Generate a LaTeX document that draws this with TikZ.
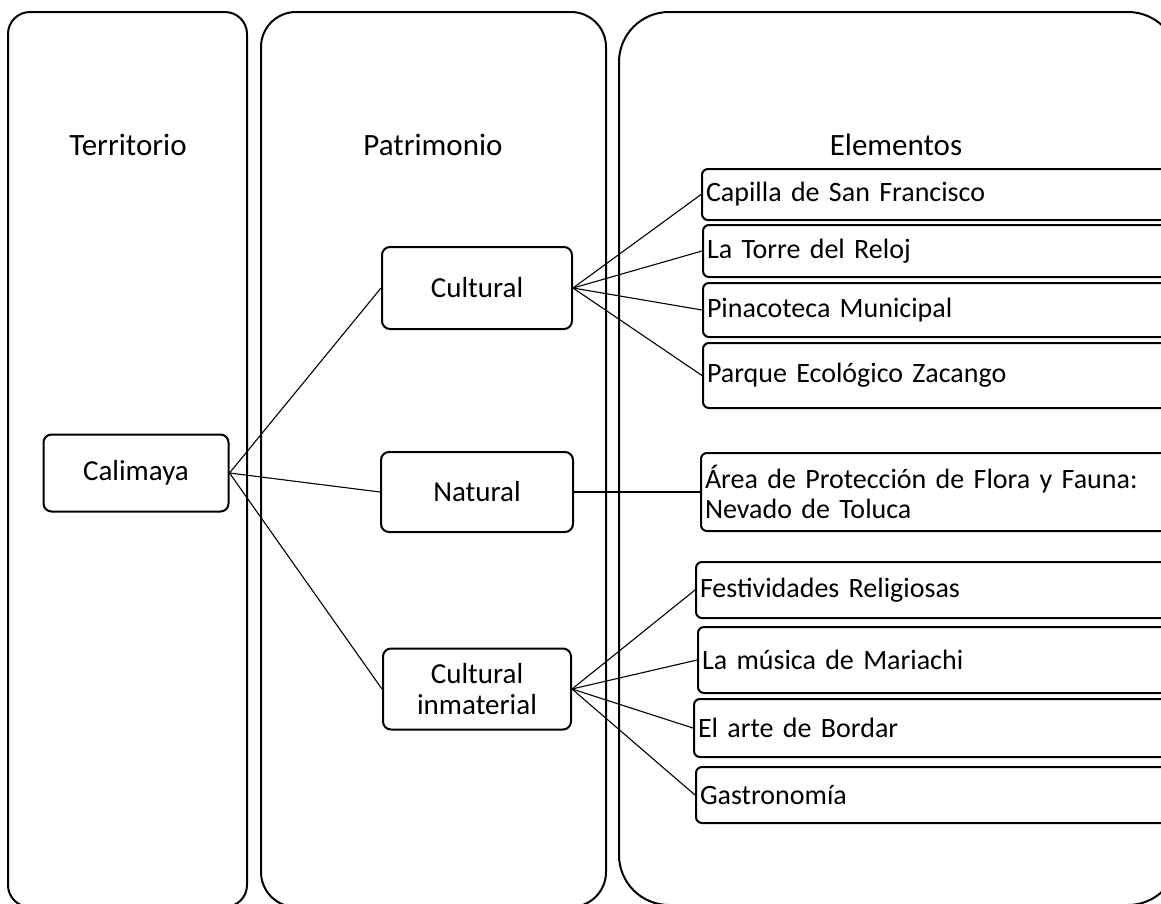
\documentclass[tikz,border=0pt]{standalone}
\usepackage{fontspec}
\setmainfont{Carlito}
\usetikzlibrary{positioning}

\begin{document}
\begin{tikzpicture}[x=1pt, y=-1pt,
    column/.style = {draw, line width=2pt},
    heading/.style = {anchor=base, font=\fontsize{31}{36}\selectfont},
    group/.style = {rectangle, draw, line width=2pt, rounded corners=8pt, align=center, font=\fontsize{29}{30.5}\selectfont, inner sep=0pt},
    item/.style = {rectangle, draw, line width=2pt, rounded corners=6pt, anchor=west, align=left, text width=470pt, inner xsep=4pt, inner ysep=0pt, font=\fontsize{28}{30}\selectfont},
    link/.style = {draw, line width=1.1pt}
]
\useasboundingbox (0,0) rectangle (1161,903);
\clip (0,0) rectangle (1161,903);

% columns
\draw [column, rounded corners=22pt] (8,12) rectangle (247,907);
\draw [column, rounded corners=35pt] (261,12) rectangle (606,907);
\draw [column, rounded corners=50pt] (619,12) rectangle (1178,905);

\node (hter) [heading] at (128,155) {Territorio};
\node (hpat) [heading] at (433,155) {Patrimonio};
\node (hele) [heading] at (896,155) {Elementos};

\node (cal) [group, minimum width=185pt, minimum height=77pt] at (136,473) {Calimaya};
\node (cul) [group, minimum width=190pt, minimum height=82pt] at (477,288) {Cultural};
\node (nat) [group, minimum width=192pt, minimum height=80pt] at (477,492) {Natural};
\node (inm) [group, minimum width=188pt, minimum height=81pt] at (477,689) {Cultural\\inmaterial};

\node (cap) [item, minimum height=51pt] at (701,194.5) {Capilla de San Francisco};
\node (tor) [item, minimum height=52pt] at (702,251) {La Torre del Reloj};
\node (pin) [item, minimum height=54pt] at (702,310) {Pinacoteca Municipal};
\node (par) [item, minimum height=65pt] at (702,375.5) {Parque Ecológico Zacango};
\node (are) [item, minimum height=78pt] at (700,492) {Área de Protección de Flora y Fauna:\\Nevado de Toluca};
\node (fes) [item, minimum height=56pt] at (695,590) {Festividades Religiosas};
\node (mus) [item, minimum height=66pt] at (697,660) {La música de Mariachi};
\node (art) [item, minimum height=58pt] at (693,728) {El arte de Bordar};
\node (gas) [item, minimum height=56pt] at (695,795) {Gastronomía};

\draw [link] (cal.east) -- (cul.west);
\draw [link] (cal.east) -- (nat.west);
\draw [link] (cal.east) -- (inm.west);

\draw [link] (cul.east) -- (cap.west);
\draw [link] (cul.east) -- (tor.west);
\draw [link] (cul.east) -- (pin.west);
\draw [link] (cul.east) -- (par.west);

\draw [link] (nat.east) -- (are.west);

\draw [link] (inm.east) -- (fes.west);
\draw [link] (inm.east) -- (mus.west);
\draw [link] (inm.east) -- (art.west);
\draw [link] (inm.east) -- (gas.west);

\end{tikzpicture}
\end{document}
